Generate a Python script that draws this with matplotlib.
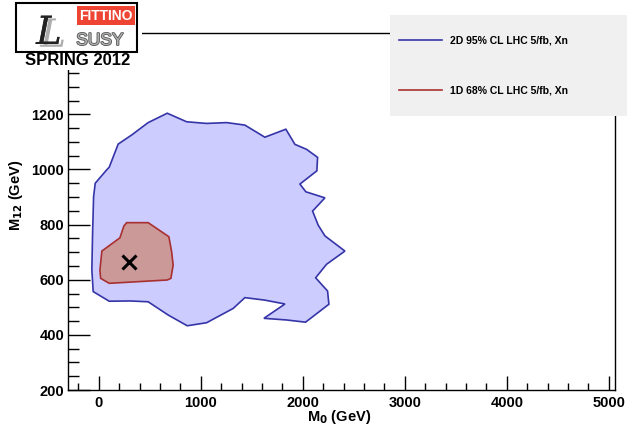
import matplotlib
matplotlib.use("Agg")
import matplotlib.pyplot as plt
from matplotlib.patches import Polygon, Rectangle
from matplotlib.ticker import MultipleLocator, FixedLocator
import matplotlib.patheffects as pe

plt.rcParams['font.family'] = ['Liberation Sans', 'DejaVu Sans']

# 2D 95% CL contour (M0, M12) in GeV
m0_95 = [670, 860, 1056, 1252, 1431, 1627, 1833, 1922, 2036, 2144, 2137, 1971, 2029,
         2216, 2095, 2150, 2216, 2412, 2232, 2125, 2242, 2255, 2026, 1840, 1618, 1824,
         1627, 1431, 1317, 1056, 866, 679, 483, 304, 101, -56, -69, -62, -52, -36, 75,
         101, 189, 321, 483]
m12_95 = [1204, 1173, 1167, 1170, 1161, 1117, 1146, 1091, 1073, 1044, 995, 947, 919,
          897, 849, 798, 759, 704, 656, 607, 559, 511, 446, 454, 460, 512,
          526, 535, 496, 444, 433, 472, 520, 523, 522, 557, 635, 768, 901, 950, 998,
          1008, 1092, 1125, 1170]

# 1D 68% CL contour
m0_68 = [272, 483, 686, 713, 728, 706, 670, 101, 17, 10, 29, 206, 245]
m12_68 = [807, 807, 756, 702, 653, 605, 599, 587, 605, 635, 704, 752, 795]

# best fit point
best_m0 = [300]
best_m12 = [663]

y_ticks = [200, 400, 600, 800, 1000, 1200]
labels = ["2D 95% CL LHC 5/fb, Xn", "1D 68% CL LHC 5/fb, Xn"]
edge_colors = ["#3535a8", "#a83030"]
fill_colors = ["#ccccff", "#cc9999"]

W, H = 627, 432
fig = plt.figure(figsize=(W / 100, H / 100), dpi=100)

def px_axes(x0, y0, x1, y1, **kw):
    return fig.add_axes([x0 / W, 1 - y1 / H, (x1 - x0) / W, (y1 - y0) / H], **kw)

ax = px_axes(68.3, 33, 615, 390)
ax.set_xlim(-300, 5060)
ax.set_ylim(200, 1495)

ax.add_patch(Polygon(list(zip(m0_95, m12_95)), closed=True, facecolor=fill_colors[0],
                     edgecolor=edge_colors[0], lw=1.2, zorder=2))
ax.add_patch(Polygon(list(zip(m0_68, m12_68)), closed=True, facecolor=fill_colors[1],
                     edgecolor=edge_colors[1], lw=1.2, zorder=3))
ax.plot(best_m0, best_m12, marker='x', color='black', markersize=10, mew=2.2,
        ls='none', zorder=4)

ax.xaxis.set_major_locator(MultipleLocator(1000))
ax.xaxis.set_minor_locator(MultipleLocator(200))
ax.yaxis.set_major_locator(FixedLocator(y_ticks))
ax.yaxis.set_minor_locator(MultipleLocator(50))
ax.tick_params(which='both', direction='in', top=False, right=False, width=1.0)
ax.tick_params(axis='x', which='major', length=10, pad=4, labelsize=10.5)
ax.tick_params(axis='x', which='minor', length=5)
ax.tick_params(axis='y', which='major', length=16, pad=3, labelsize=10.5)
ax.tick_params(axis='y', which='minor', length=8)
for lab in ax.get_xticklabels() + ax.get_yticklabels():
    lab.set_fontweight('bold')
for s in ax.spines.values():
    s.set_linewidth(1.0)

ax.set_xlabel(r"M$_\mathbf{0}$ (GeV)", fontsize=10.5, fontweight='bold', va='center')
ax.set_ylabel(r"M$_\mathbf{12}$ (GeV)", fontsize=10.5, fontweight='bold', va='center')
ax.xaxis.set_label_coords(0.495, -0.076)
ax.yaxis.set_label_coords(-0.096, 0.546)

# legend box
lax = px_axes(390, 15, 627, 116)
lax.set_xlim(390, 627)
lax.set_ylim(116, 15)
lax.set_facecolor('#f0f0f0')
for s in lax.spines.values():
    s.set_visible(False)
lax.set_xticks([])
lax.set_yticks([])
for yy, lbl, c in zip([40, 90], labels, edge_colors):
    lax.plot([399, 442], [yy, yy], color=c, lw=1.2)
    lax.text(450, yy, lbl, fontsize=7.5, fontweight='bold', va='center', ha='left')

# logo
gax = px_axes(0, 0, 142, 70)
gax.set_xlim(0, 142)
gax.set_ylim(70, 0)
gax.set_facecolor('white')
for s in gax.spines.values():
    s.set_visible(False)
gax.set_xticks([])
gax.set_yticks([])
gax.add_patch(Rectangle((16, 3), 121, 49, facecolor='white', edgecolor='black', lw=1.5))
gax.add_patch(Rectangle((77, 6), 58, 19, facecolor='#ee4433', edgecolor='none'))
gax.text(106, 16, "FITTINO", color='white', fontsize=10, fontweight='bold',
         ha='center', va='center')
gax.text(100, 45, "SUSY", color='#b0b0b0', fontsize=12.5, ha='center', va='baseline',
         path_effects=[pe.withStroke(linewidth=1.2, foreground='#555555')])
gax.text(49, 44, "L", color='#222222', fontsize=28, fontstyle='italic',
         family='DejaVu Serif', ha='center', va='baseline',
         path_effects=[pe.withSimplePatchShadow(offset=(3, -2), shadow_rgbFace='#999999',
                                                alpha=0.8), pe.Normal()])
gax.text(78, 60.5, "SPRING 2012", color='black', fontsize=12, fontweight='bold',
         ha='center', va='center')

fig.savefig("out.png", dpi=100)
